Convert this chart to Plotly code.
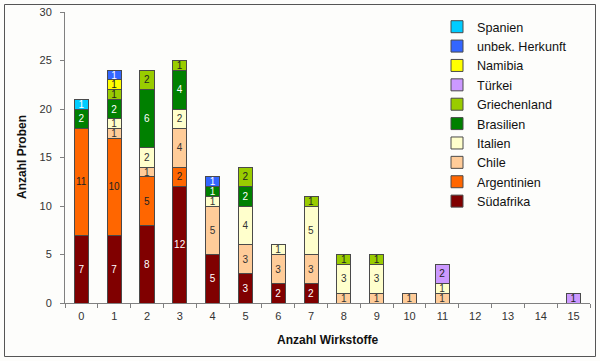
import plotly.graph_objects as go

categories = [str(i) for i in range(16)]

suedafrika   = [7, 7, 8, 12, 5, 3, 2, 2, 0, 0, 0, 0, 0, 0, 0, 0]
argentinien  = [11, 10, 5, 2, 0, 0, 0, 0, 0, 0, 0, 0, 0, 0, 0, 0]
chile        = [0, 1, 1, 4, 5, 3, 3, 3, 1, 1, 1, 1, 0, 0, 0, 0]
italien      = [0, 1, 2, 2, 1, 4, 1, 5, 3, 3, 0, 1, 0, 0, 0, 0]
brasilien    = [2, 2, 6, 4, 1, 2, 0, 0, 0, 0, 0, 0, 0, 0, 0, 0]
griechenland = [0, 1, 2, 1, 0, 2, 0, 1, 1, 1, 0, 0, 0, 0, 0, 0]
tuerkei      = [0, 0, 0, 0, 0, 0, 0, 0, 0, 0, 0, 2, 0, 0, 0, 1]
namibia      = [0, 1, 0, 0, 0, 0, 0, 0, 0, 0, 0, 0, 0, 0, 0, 0]
unbekannt    = [0, 1, 0, 0, 1, 0, 0, 0, 0, 0, 0, 0, 0, 0, 0, 0]
spanien      = [1, 0, 0, 0, 0, 0, 0, 0, 0, 0, 0, 0, 0, 0, 0, 0]

series = [
    ("Südafrika", suedafrika, "#800000", "white"),
    ("Argentinien", argentinien, "#FF6600", "#222222"),
    ("Chile", chile, "#FFCC99", "#333333"),
    ("Italien", italien, "#FFFFCC", "#333333"),
    ("Brasilien", brasilien, "#008000", "white"),
    ("Griechenland", griechenland, "#99CC00", "#222222"),
    ("Türkei", tuerkei, "#CC99FF", "#222222"),
    ("Namibia", namibia, "#FFFF00", "#222222"),
    ("unbek. Herkunft", unbekannt, "#3366FF", "white"),
    ("Spanien", spanien, "#00CCFF", "white"),
]

fig = go.Figure()
for name, vals, color, tcol in series:
    yv = [v if v else None for v in vals]
    fig.add_trace(go.Bar(
        x=categories, y=yv, name=name,
        marker=dict(color=color, line=dict(color="#4a4a4a", width=1)),
        width=0.43,
        text=[str(v) if v else "" for v in vals],
        textposition="inside", insidetextanchor="middle", textangle=0,
        textfont=dict(size=10, color=tcol, family="Liberation Sans, Arial"),
        hoverinfo="skip",
    ))

FW, FH = 600, 361
L, R, T, B = 65, 590, 12, 303
W, H = R - L, B - T
def px(x): return (x - L) / W
def py(y): return (B - y) / H

fig.update_layout(
    barmode="stack",
    width=FW, height=FH,
    margin=dict(l=L, r=FW - R, t=T, b=FH - B, autoexpand=False),
    paper_bgcolor="#fdfdfb", plot_bgcolor="#fdfdfb",
    font=dict(family="Liberation Sans, Arial", size=11, color="#222222"),
    uniformtext=dict(minsize=10, mode="show"),
    showlegend=True,
    legend=dict(
        xref="container", yref="container",
        x=437 / FW, y=1 - 12 / FH, xanchor="left", yanchor="top",
        traceorder="reversed", tracegroupgap=0,
        font=dict(size=12.6, color="#111111"),
        bgcolor="rgba(0,0,0,0)",
        itemwidth=30, maxheight=1,
    ),
    xaxis=dict(
        type="category", range=[-0.5, 15.5], automargin=False,
        showline=True, linecolor="#808080", linewidth=1,
        ticks="outside", tickson="boundaries", ticklen=4, tickcolor="#808080",
        ticklabelstandoff=3,
        tickfont=dict(size=11, color="#333333"),
        showgrid=False, zeroline=False,
    ),
    yaxis=dict(
        range=[0, 30], dtick=5, automargin=False,
        showline=True, linecolor="#808080", linewidth=1,
        ticks="outside", ticklen=4, tickcolor="#808080",
        ticklabelstandoff=6,
        tickfont=dict(size=11, color="#333333"),
        showgrid=False, zeroline=False,
    ),
    annotations=[
        dict(text="<b>Anzahl Wirkstoffe</b>", xref="paper", yref="paper",
             x=0.5, y=py(340), xanchor="center", yanchor="middle", showarrow=False,
             font=dict(size=12, color="#111111")),
        dict(text="<b>Anzahl Proben</b>", xref="paper", yref="paper",
             x=px(22), y=py(157), xanchor="center", yanchor="middle", showarrow=False,
             textangle=-90, font=dict(size=12, color="#111111")),
    ],
    shapes=[dict(
        type="rect", xref="paper", yref="paper",
        x0=px(4.5), x1=px(595.5), y0=py(356.5), y1=py(4.5),
        line=dict(color="#555555", width=1), fillcolor="rgba(0,0,0,0)", layer="above",
    )],
)

fig.write_html(
    "out.html",
    config={"displayModeBar": False},
    post_script="document.body.style.margin='0';document.body.style.overflow='hidden';",
)
